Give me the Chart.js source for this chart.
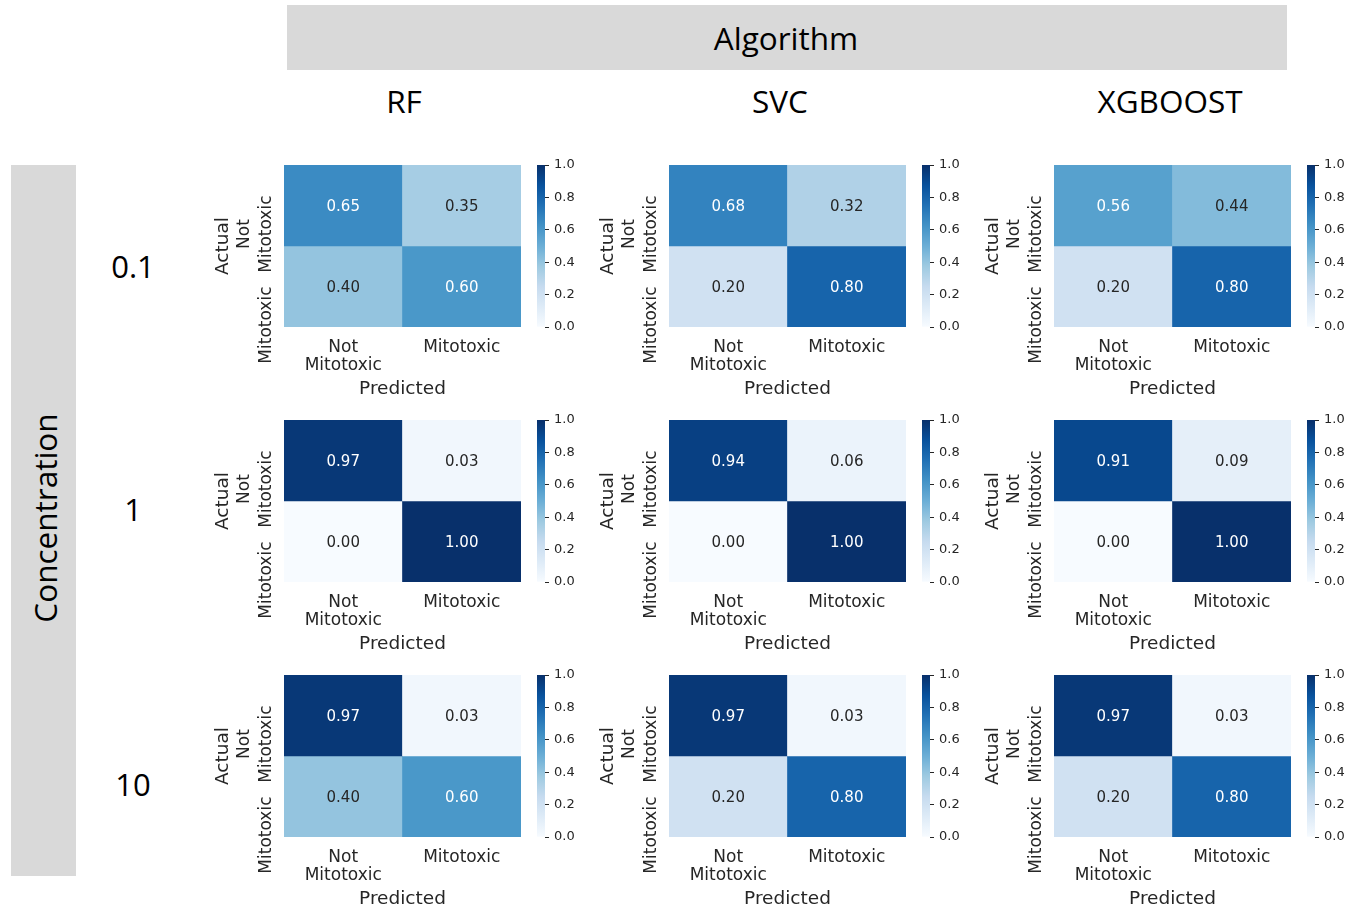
<!DOCTYPE html>
<html>
<head>
<meta charset="utf-8">
<title>Confusion matrices by algorithm and concentration</title>
<script src="https://cdn.jsdelivr.net/npm/chart.js@4.4.1/dist/chart.umd.min.js"></script>
<style>
  html, body { margin: 0; padding: 0; background: #ffffff; }
  #page { position: relative; width: 1350px; height: 910px; overflow: hidden; background: #ffffff; }
  .hdr { position: absolute; font-family: "Open Sans", sans-serif; color: #000; line-height: 1; white-space: nowrap; transform: translate(-50%, -50%); }
  .box { position: absolute; background: #d9d9d9; }
  canvas { position: absolute; }
</style>
</head>
<body>
<div id="page">
  <div class="box" style="left:287px; top:5px; width:1000px; height:65px;"></div>
  <div class="box" style="left:11px; top:165px; width:65px; height:711px;"></div>
</div>
<script>
// ---- data -------------------------------------------------------------
const algorithms = ['RF', 'SVC', 'XGBOOST'];
const concentrations = ['0.1', '1', '10'];
const classLabels = ['Not Mitotoxic', 'Mitotoxic'];   // rows: actual, columns: predicted

// row-normalised confusion matrices, [actual][predicted]
const rf_c01  = [[0.65, 0.35], [0.40, 0.60]];
const svc_c01 = [[0.68, 0.32], [0.20, 0.80]];
const xgb_c01 = [[0.56, 0.44], [0.20, 0.80]];

const rf_c1   = [[0.97, 0.03], [0.00, 1.00]];
const svc_c1  = [[0.94, 0.06], [0.00, 1.00]];
const xgb_c1  = [[0.91, 0.09], [0.00, 1.00]];

const rf_c10  = [[0.97, 0.03], [0.40, 0.60]];
const svc_c10 = [[0.97, 0.03], [0.20, 0.80]];
const xgb_c10 = [[0.97, 0.03], [0.20, 0.80]];

const colorbarTicks = [0.0, 0.2, 0.4, 0.6, 0.8, 1.0];

// grid of panels: one row per concentration, one column per algorithm
const panelGrid = [
  [rf_c01, svc_c01, xgb_c01],
  [rf_c1,  svc_c1,  xgb_c1],
  [rf_c10, svc_c10, xgb_c10]
];

// ---- colour map (matplotlib "Blues") -----------------------------------
const bluesStops = ['#f7fbff', '#deebf7', '#c6dbef', '#9ecae1', '#6baed6',
                    '#4292c6', '#2171b5', '#08519c', '#08306b'];
function hexToRgb(h) {
  return [parseInt(h.slice(1, 3), 16), parseInt(h.slice(3, 5), 16), parseInt(h.slice(5, 7), 16)];
}
function bluesRgb(v) {
  const t = Math.min(1, Math.max(0, v)) * (bluesStops.length - 1);
  const i = Math.min(bluesStops.length - 2, Math.floor(t));
  const f = t - i;
  const a = hexToRgb(bluesStops[i]), b = hexToRgb(bluesStops[i + 1]);
  return a.map((c, k) => Math.round(c + (b[k] - c) * f));
}
function blues(v) {
  const c = bluesRgb(v);
  return `rgb(${c[0]},${c[1]},${c[2]})`;
}
function annotColor(v) {
  const lin = bluesRgb(v).map(c => {
    c /= 255;
    return c <= 0.03928 ? c / 12.92 : Math.pow((c + 0.055) / 1.055, 2.4);
  });
  const lum = 0.2126 * lin[0] + 0.7152 * lin[1] + 0.0722 * lin[2];
  return lum > 0.408 ? '#262626' : '#ffffff';
}

// ---- layout -------------------------------------------------------------
const FONT = '"DejaVu Sans", sans-serif';
const INK = '#262626';
const cellLeft = [284, 669, 1054];
const cellTop = [165, 420, 675];
const cellW = 237, cellH = 162;
const axisW = 90, axisH = 80, padTop = 5, padRight = 5;

const page = document.getElementById('page');

function addText(text, x, y, size, rotate) {
  const d = document.createElement('div');
  d.className = 'hdr';
  d.textContent = text;
  d.style.left = x + 'px';
  d.style.top = y + 'px';
  d.style.fontSize = size + 'px';
  if (rotate) d.style.transform = 'translate(-50%, -50%) rotate(-90deg)';
  page.appendChild(d);
}

addText('Algorithm', 786, 37.5, 31.5);
const headerX = [404, 780, 1170];
algorithms.forEach((a, i) => addText(a, headerX[i], 100.5, 31.5));
addText('Concentration', 45, 518, 31.5, true);
const rowLabelY = [266, 509, 784];
concentrations.forEach((c, i) => addText(c, 133, rowLabelY[i], 31));

function addCanvas(left, top, w, h) {
  const cv = document.createElement('canvas');
  cv.width = w; cv.height = h;
  cv.style.left = left + 'px';
  cv.style.top = top + 'px';
  cv.style.width = w + 'px';
  cv.style.height = h + 'px';
  page.appendChild(cv);
  return cv;
}

// cell values written in the middle of each cell
const cellTextPlugin = {
  id: 'cellText',
  afterDatasetsDraw(chart) {
    const ctx = chart.ctx;
    ctx.save();
    ctx.font = '15px ' + FONT;
    ctx.textAlign = 'center';
    ctx.textBaseline = 'middle';
    chart.data.datasets.forEach((ds, r) => {
      chart.getDatasetMeta(r).data.forEach((bar, c) => {
        const v = ds.cellValues[c];
        const p = bar.getProps(['x', 'y', 'base'], true);
        ctx.fillStyle = annotColor(v);
        ctx.fillText(v.toFixed(2), p.x, (p.y + p.base) / 2 + 2);
      });
    });
    ctx.restore();
  }
};

// vertical tick labels for the actual-class rows
const rowTickPlugin = {
  id: 'rowTicks',
  afterDraw(chart) {
    const ctx = chart.ctx;
    const yScale = chart.scales.y;
    const n = classLabels.length;
    const lineGap = 22;
    const anchorX = chart.chartArea.left - 17;
    ctx.save();
    ctx.font = '17px ' + FONT;
    ctx.fillStyle = INK;
    ctx.textAlign = 'center';
    ctx.textBaseline = 'middle';
    classLabels.forEach((label, r) => {
      const lines = label.split(' ');
      const tickY = yScale.getPixelForValue(n - r - 0.5);
      const longest = Math.max(...lines.map(l => ctx.measureText(l).width));
      const blockTop = tickY - (lines.length - 1) * 10;
      const cy = blockTop + longest / 2;
      lines.forEach((ln, i) => {
        const x = anchorX - (lines.length - 1 - i) * lineGap;
        ctx.save();
        ctx.translate(x, cy);
        ctx.rotate(-Math.PI / 2);
        ctx.fillText(ln, 0, 0);
        ctx.restore();
      });
    });
    ctx.restore();
  }
};

function heatmap(matrix, left, top) {
  const w = axisW + cellW + padRight;
  const h = padTop + cellH + axisH;
  const cv = addCanvas(left - axisW, top - padTop, w, h);
  const n = matrix.length;
  const datasets = matrix.map((row, r) => ({
    label: classLabels[r],
    data: row.map(() => [n - r - 1, n - r]),
    cellValues: row,
    backgroundColor: row.map(v => blues(v)),
    borderWidth: 0,
    barPercentage: 1,
    categoryPercentage: 1,
    grouped: false
  }));
  return new Chart(cv, {
    type: 'bar',
    data: { labels: classLabels.map(s => s.split(' ')), datasets },
    options: {
      responsive: false,
      animation: false,
      events: [],
      layout: { padding: { top: padTop, right: padRight, left: 0, bottom: 0 } },
      plugins: { legend: { display: false }, tooltip: { enabled: false } },
      scales: {
        x: {
          type: 'category',
          offset: true,
          afterFit: s => { s.height = axisH; },
          grid: { display: false, drawTicks: false },
          border: { display: false },
          ticks: {
            font: { family: FONT, size: 17, lineHeight: 1.1 },
            color: INK,
            padding: 11,
            maxRotation: 0,
            minRotation: 0,
            autoSkip: false
          },
          title: {
            display: true,
            text: 'Predicted',
            color: INK,
            font: { family: FONT, size: 18.5 },
            padding: { top: 0, bottom: 7 }
          }
        },
        y: {
          type: 'linear',
          min: 0,
          max: n,
          afterFit: s => { s.width = axisW; },
          grid: { display: false, drawTicks: false },
          border: { display: false },
          ticks: { display: false },
          title: {
            display: true,
            text: 'Actual',
            color: INK,
            font: { family: FONT, size: 18.5 },
            padding: { top: 18, bottom: 0 }
          }
        }
      }
    },
    plugins: [cellTextPlugin, rowTickPlugin]
  });
}

function colorbar(left, top) {
  const barW = 8, axis = 42, pad = 16;
  const cv = addCanvas(left, top - pad, barW + axis, cellH + 2 * pad);
  return new Chart(cv, {
    type: 'bar',
    data: {
      labels: [''],
      datasets: [{
        data: [[colorbarTicks[0], colorbarTicks[colorbarTicks.length - 1]]],
        backgroundColor: c => {
          const a = c.chart.chartArea;
          if (!a) return bluesStops[bluesStops.length - 1];
          const g = c.chart.ctx.createLinearGradient(0, a.bottom, 0, a.top);
          bluesStops.forEach((col, i) => g.addColorStop(i / (bluesStops.length - 1), col));
          return g;
        },
        borderWidth: 0,
        barPercentage: 1,
        categoryPercentage: 1
      }]
    },
    options: {
      responsive: false,
      animation: false,
      events: [],
      layout: { padding: { top: pad, bottom: pad, left: 0, right: 0 } },
      plugins: { legend: { display: false }, tooltip: { enabled: false } },
      scales: {
        x: { display: false },
        y: {
          position: 'right',
          min: colorbarTicks[0],
          max: colorbarTicks[colorbarTicks.length - 1],
          afterBuildTicks: s => { s.ticks = colorbarTicks.map(v => ({ value: v })); },
          afterFit: s => { s.width = axis; },
          grid: { drawOnChartArea: false, drawTicks: true, tickLength: 4, color: INK, lineWidth: 1 },
          border: { display: false },
          ticks: {
            font: { family: FONT, size: 13 },
            color: INK,
            padding: 5,
            callback: v => Number(v).toFixed(1)
          }
        }
      }
    }
  });
}

panelGrid.forEach((row, r) => {
  row.forEach((matrix, c) => {
    heatmap(matrix, cellLeft[c], cellTop[r]);
    colorbar(cellLeft[c] + 253, cellTop[r]);
  });
});
</script>
</body>
</html>
